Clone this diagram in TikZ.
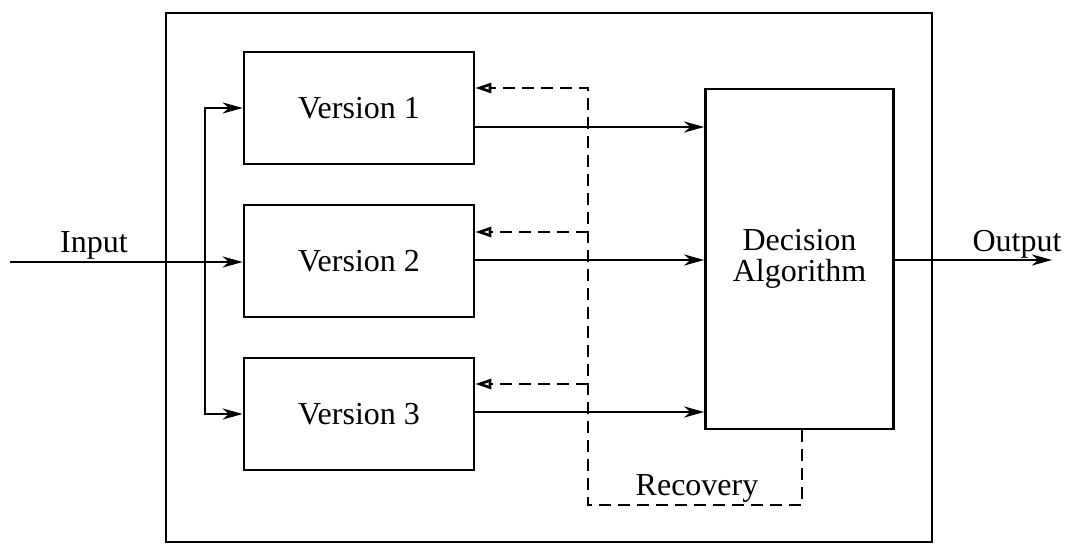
\documentclass[tikz,border=0pt]{standalone}
\usepackage{fontspec}
\setmainfont{Liberation Serif}
\usetikzlibrary{arrows.meta}
\tikzset{
  verbox/.style={draw,line width=1.3pt,minimum width=115pt,minimum height=56pt,inner sep=0pt},
  decbox/.style={draw,line width=1.3pt,minimum width=94pt,minimum height=170pt,align=center,inner sep=0pt},
  flow/.style={line width=1.3pt,-{Stealth[length=10pt,width=5.5pt,inset=3pt]}},
  back/.style={line width=1.3pt,dash pattern=on 6pt off 3.5pt,-{Triangle[open,length=8pt,width=5pt]}},
  lbl/.style={inner sep=0pt}
}
\begin{document}
\begin{tikzpicture}[x=0.5pt,y=-0.5pt,font=\fontsize{16}{15.5}\selectfont]
\useasboundingbox (0,0) rectangle (1069,544);
\draw[line width=1.3pt] (166,13) rectangle (932,542);
\node[verbox] (v1) at (359,108) {Version 1};
\node[verbox] (v2) at (359,261) {Version 2};
\node[verbox] (v3) at (359,414) {Version 3};
\node[decbox] (dec) at (799.5,259) {Decision\\Algorithm};
\coordinate (in) at (10,262);
\coordinate (split) at (205,262);
\coordinate (out) at (1052,260);
% inputs
\draw[line width=1.3pt] (in) -- (split);
\draw[flow] (split) -- (v2.west |- split);
\draw[flow] (split) |- (v1.west);
\draw[flow] (split) |- (v3.west);
\node[lbl] (inlbl) at (94,245) {Input};
% versions to decision
\draw[flow] (v1.east |- 0,127) -- (dec.west |- 0,127);
\draw[flow] (v2.east |- 0,260) -- (dec.west |- 0,260);
\draw[flow] (v3.east |- 0,412) -- (dec.west |- 0,412);
% recovery
\draw[back] (dec.south -| 802,0) -- (802,505) -- (588,505) -- (588,88) -- (v1.east |- 0,88);
\draw[back] (588,232) -- (v2.east |- 0,232);
\draw[back] (588,384) -- (v3.east |- 0,384);
\node[lbl] (rec) at (697,488) {Recovery};
% output
\draw[flow] (dec.east |- out) -- (out);
\node[lbl] (outlbl) at (1017,244) {Output};
\end{tikzpicture}
\end{document}
